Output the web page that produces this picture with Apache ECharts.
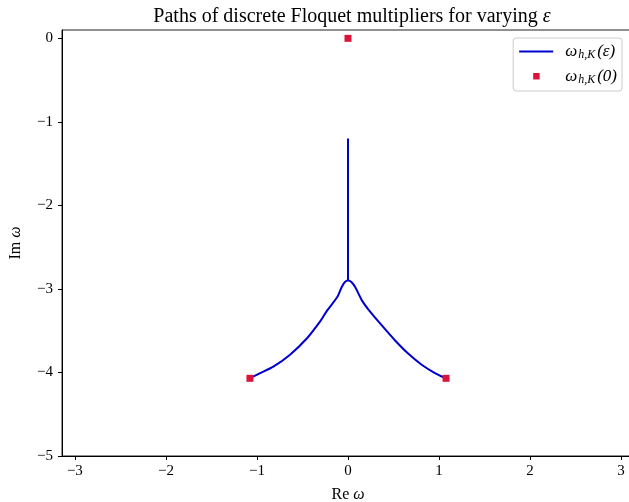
<!DOCTYPE html>
<html><head><meta charset="utf-8">
<script src="https://cdn.jsdelivr.net/npm/echarts@6/dist/echarts.min.js"></script>
<style>html,body{margin:0;padding:0;background:#fff}#c{width:629px;height:502px}</style>
</head><body><div id="c"></div>
<script>
var titleText = 'Paths of discrete Floquet multipliers for varying {i|ε}';
var xTicks = [-3, -2, -1, 0, 1, 2, 3];
var yTicks = [0, -1, -2, -3, -4, -5];
// left branch (from endpoint to junction)
var leftX = [-1.08, -0.97, -0.82, -0.64, -0.45, -0.30, -0.23, -0.12, -0.07, -0.036, 0];
var leftY = [-4.07, -4.01, -3.93, -3.79, -3.59, -3.38, -3.26, -3.10, -2.98, -2.92, -2.90];
// right branch (from junction to endpoint)
var rightX = [0, 0.04, 0.08, 0.154, 0.227, 0.374, 0.52, 0.667, 0.813, 0.96, 1.077];
var rightY = [-2.90, -2.92, -2.98, -3.14, -3.25, -3.44, -3.62, -3.78, -3.91, -4.01, -4.07];
// vertical segment
var vertX = [0, 0];
var vertY = [-2.90, -1.20];
// initial multipliers (epsilon = 0)
var initX = [0, -1.077, 1.077];
var initY = [0, -4.07, -4.07];

function pts(xs, ys){ return xs.map(function(x,i){return [x, ys[i]];}); }
var lineData = pts(leftX, leftY).concat(pts(rightX, rightY).slice(1)).concat([['-','-']]).concat(pts(vertX, vertY));
var initData = pts(initX, initY);
var minus = function(v){ return String(v).replace('-', '\u2212'); };
var FONT = 'Liberation Serif';
var ital = function(sz){ return { fontFamily: FONT, fontSize: sz, fontStyle: 'italic', color: '#000' }; };

var chart = echarts.init(document.getElementById('c'), null, {renderer:'canvas'});
chart.setOption({
  animation: false,
  backgroundColor: '#fff',
  title: { text: titleText, left: 347, top: 2, textAlign: 'center',
    textStyle: { fontFamily: FONT, fontWeight: 'normal', fontSize: 20, color: '#000', rich: { i: ital(20) } } },
  grid: { left: 62, top: 30, width: 572, height: 426, show: true, borderColor: '#222', borderWidth: 1,
    containLabel: false, outerBoundsMode: 'none' },
  legend: {
    right: 7, top: 38, orient: 'vertical', backgroundColor: '#fff', borderColor: '#ccc', borderWidth: 1, borderRadius: 3,
    padding: [5, 5, 5, 6], itemGap: 7, itemWidth: 40, itemHeight: 8,
    data: [{name:'line', icon: 'path://M0,0 M40,8 M0,3 L34,3 L34,5 L0,5 Z'},
           {name:'init', icon: 'path://M0,0 M40,8 M14,0.5 L20.5,0.5 L20.5,7 L14,7 Z'}],
    formatter: function(n){ return n === 'line' ? '{w|ω}{s|h,K}{w|(ε)}' : '{w|ω}{s|h,K}{w|(0)}'; },
    textStyle: { fontFamily: FONT, fontSize: 17, color: '#000',
      rich: { w: { fontFamily: FONT, fontSize: 17, fontStyle: 'italic', color:'#000', padding:[0,1,0,1] },
              s: { fontFamily: FONT, fontSize: 12, fontStyle: 'italic', color:'#000', verticalAlign: 'bottom', padding:[7,1,0,0] } } }
  },
  xAxis: {
    type: 'value', min: -Math.PI, max: Math.PI, interval: 1,
    name: 'Re {i|ω}', nameLocation: 'middle', nameGap: 31,
    nameTextStyle: { fontFamily: FONT, fontSize: 16, color: '#000', rich: { i: ital(16) } },
    axisLine: { onZero: false, lineStyle: { color: '#000', width: 1 } },
    axisTick: { show: true, length: 4, lineStyle: { color: '#000' }, customValues: xTicks },
    axisLabel: { fontFamily: FONT, fontSize: 15, color: '#000', margin: 8, customValues: xTicks, formatter: minus },
    splitLine: { show: false }
  },
  yAxis: {
    type: 'value', min: -5, max: 0.1,
    name: 'Im {i|ω}', nameLocation: 'middle', nameGap: 38, nameRotate: 90,
    nameTextStyle: { fontFamily: FONT, fontSize: 16, color: '#000', rich: { i: ital(16) } },
    axisLine: { onZero: false, lineStyle: { color: '#000', width: 1 } },
    axisTick: { show: true, length: 4, lineStyle: { color: '#000' }, customValues: yTicks },
    axisLabel: { fontFamily: FONT, fontSize: 15, color: '#000', margin: 9, customValues: yTicks, formatter: minus },
    splitLine: { show: false }
  },
  series: [
    { name: 'line', type: 'line', data: lineData, showSymbol: false, symbol: 'none', connectNulls: false, smooth: 0.25,
      lineStyle: { color: '#0000cc', width: 2 }, itemStyle: { color: '#0000cc' }, z: 2 },
    { name: 'init', type: 'scatter', data: initData, symbol: 'rect', symbolSize: 7,
      itemStyle: { color: '#dc143c', opacity: 1 }, z: 3 }
  ]
});
</script></body></html>
